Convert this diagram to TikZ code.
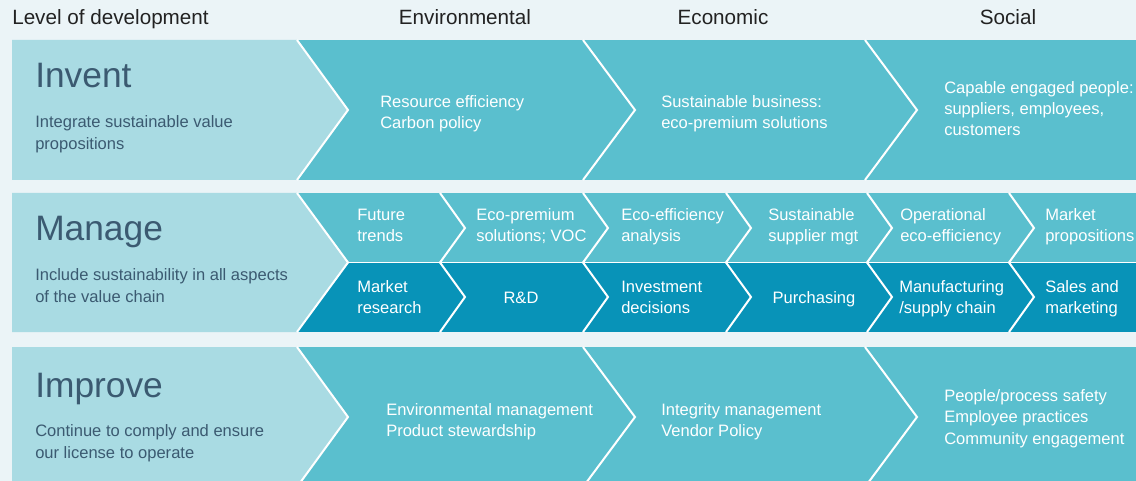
\documentclass[tikz,border=0pt]{standalone}
\usepackage{fontspec}
\setmainfont{Liberation Sans}
\usetikzlibrary{positioning}

\definecolor{bgpale}{HTML}{EBF4F7}
\definecolor{panel}{HTML}{A9DBE3}
\definecolor{tealmid}{HTML}{5ABFCE}
\definecolor{tealdeep}{HTML}{0893B8}
\definecolor{slate}{HTML}{3B5A71}
\definecolor{headtxt}{HTML}{222222}

\begin{document}
\begin{tikzpicture}[
  x=0.75pt, y=-0.75pt,
  hdr/.style={font=\fontsize{15.5}{18}\selectfont, text=headtxt, inner sep=0pt, anchor=base},
  lvl/.style={font=\fontsize{26.5}{30}\selectfont, text=slate, inner sep=0pt, anchor=base west},
  sub/.style={font=\fontsize{12.4}{16.2}\selectfont, text=slate, align=left, inner sep=0pt, anchor=base west},
  itm/.style={font=\fontsize{12.4}{16.1}\selectfont, text=white, align=left, inner sep=0pt, anchor=base west},
  sep/.style={draw=white, line width=1.5pt, line join=miter}
]
\useasboundingbox (0,0) rectangle (1136,481);
\fill[bgpale] (0,0) rectangle (1136,481);
\clip (0,0) rectangle (1136,481);

% -------------------------------------------------------------------------
% BANDS
% -------------------------------------------------------------------------
\fill[tealmid] (12,40) rectangle (1140,180);
\fill[tealmid] (12,193) rectangle (1140,332);
\fill[tealdeep] (297,262.5) rectangle (1140,332);
\fill[tealmid] (12,347) rectangle (1140,487);

% left panels
\fill[panel] (12,40) -- (297,40) -- (348,110) -- (297,180) -- (12,180) -- cycle;
\fill[panel] (12,193) -- (297,193) -- (348,262.5) -- (297,332) -- (12,332) -- cycle;
\fill[panel] (12,347) -- (297,347) -- (348,417) -- (297,487) -- (12,487) -- cycle;
\draw[sep] (297,40) -- (348,110) -- (297,180);
\draw[sep] (297,193) -- (348,262.5) -- (297,332);
\draw[sep] (297,347) -- (348,417) -- (297,487);

% big chevrons
\draw[sep] (583,40) -- (635,110) -- (583,180);
\draw[sep] (865,40) -- (917,110) -- (865,180);
\draw[sep] (583,347) -- (635,417) -- (583,487);
\draw[sep] (865,347) -- (917,417) -- (865,487);

% small chevrons
\draw[sep, line width=1pt] (348,262.5) -- (1140,262.5);
\foreach \cx in {440,583,726,867,1009}
  \draw[sep] (\cx,193) -- (\cx+25,228) -- (\cx,262.5) -- (\cx+25,297) -- (\cx,332);

% -------------------------------------------------------------------------
% HEADINGS
% -------------------------------------------------------------------------
\node[hdr, anchor=base west] (hd-level) at (12,25) {Level of development};
\node[hdr] (hd-env) at (465,25) {Environmental};
\node[hdr] (hd-eco) at (723,25) {Economic};
\node[hdr] (hd-soc) at (1008,25) {Social};

% -------------------------------------------------------------------------
% INVENT (base = last line)
% -------------------------------------------------------------------------
\node[lvl] (invent) at (35,88) {Invent};
\node[sub] (invent-sub) at (35,149.5) {Integrate sustainable value\\propositions};
\node[itm] (inv-env) at (380,128.5) {Resource efficiency\\Carbon policy};
\node[itm] (inv-eco) at (661,128.5) {Sustainable business:\\eco-premium solutions};
\node[itm] (inv-soc) at (944,136) {Capable engaged people:\\suppliers, employees,\\customers};

% -------------------------------------------------------------------------
% MANAGE
% -------------------------------------------------------------------------
\node[lvl] (manage) at (35,241) {Manage};
\node[sub] (manage-sub) at (35,302.5) {Include sustainability in all aspects\\of the value chain};
\node[itm] (mg-trends) at (357,242) {Future\\trends};
\node[itm] (mg-voc) at (476,242) {Eco-premium\\solutions; VOC};
\node[itm] (mg-effan) at (621,242) {Eco-efficiency\\analysis};
\node[itm] (mg-supp) at (768,242) {Sustainable\\supplier mgt};
\node[itm] (mg-opeff) at (900,242) {Operational\\eco-efficiency};
\node[itm] (mg-mprop) at (1045,242) {Market\\propositions};
\node[itm] (mg-mres) at (357,314) {Market\\research};
\node[itm, anchor=base] (mg-rnd) at (521,304) {R\&D};
\node[itm] (mg-inv) at (621,314) {Investment\\decisions};
\node[itm, anchor=base] (mg-purch) at (814,304) {Purchasing};
\node[itm] (mg-manuf) at (899,314) {Manufacturing\\/supply chain};
\node[itm] (mg-sales) at (1045,314) {Sales and\\marketing};

% -------------------------------------------------------------------------
% IMPROVE
% -------------------------------------------------------------------------
\node[lvl] (improve) at (35,397) {Improve};
\node[sub] (improve-sub) at (35,458) {Continue to comply and ensure\\our license to operate};
\node[itm] (imp-env) at (386,436.5) {Environmental management\\Product stewardship};
\node[itm] (imp-eco) at (661,436.5) {Integrity management\\Vendor Policy};
\node[itm] (imp-soc) at (944,444) {People/process safety\\Employee practices\\Community engagement};
\end{tikzpicture}
\end{document}
